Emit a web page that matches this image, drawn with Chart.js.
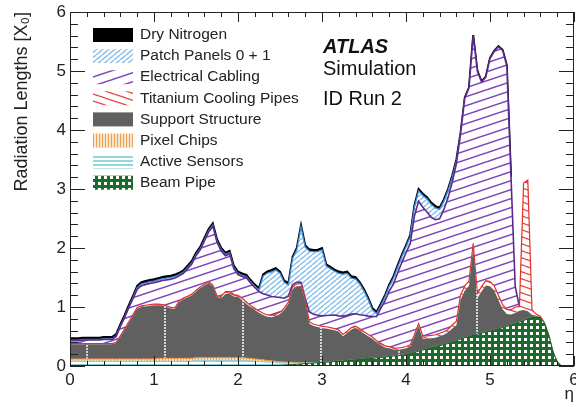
<!DOCTYPE html>
<html>
<head>
<meta charset="utf-8">
<script src="https://cdn.jsdelivr.net/npm/chart.js@4.4.1/dist/chart.umd.min.js"></script>
<style>
  html, body { margin: 0; padding: 0; background: #fff; }
</style>
</head>
<body>
<canvas id="c" width="576" height="407"></canvas>
<script>
// eta bins (0 .. 6, step 0.05)
const eta = [
  0.00,0.05,0.10,0.15,0.20,0.25,0.30,0.35,0.40,0.45,
  0.50,0.55,0.60,0.65,0.70,0.75,0.80,0.85,0.90,0.95,
  1.00,1.05,1.10,1.15,1.20,1.25,1.30,1.35,1.40,1.45,
  1.50,1.55,1.60,1.65,1.70,1.75,1.80,1.85,1.90,1.95,
  2.00,2.05,2.10,2.15,2.20,2.25,2.30,2.35,2.40,2.45,
  2.50,2.55,2.60,2.65,2.70,2.75,2.80,2.85,2.90,2.95,
  3.00,3.05,3.10,3.15,3.20,3.25,3.30,3.35,3.40,3.45,
  3.50,3.55,3.60,3.65,3.70,3.75,3.80,3.85,3.90,3.95,
  4.00,4.05,4.10,4.15,4.20,4.25,4.30,4.35,4.40,4.45,
  4.50,4.55,4.60,4.65,4.70,4.75,4.80,4.85,4.90,4.95,
  5.00,5.05,5.10,5.15,5.20,5.25,5.30,5.35,5.40,5.45,
  5.50,5.55,5.60,5.65,5.70,5.75,5.80,5.85,5.90,5.95,
  6.00
];

// radiation length contributions [X0]
const beamPipe = [
  .01,.01,.01,.01,.01,.01,.01,.01,.01,.01,
  .01,.01,.01,.01,.01,.01,.01,.01,.01,.01,
  .01,.01,.01,.01,.01,.01,.01,.01,.01,.01,
  .01,.01,.01,.01,.01,.01,.01,.01,.01,.01,
  .01,.01,.01,.01,.01,.01,.01,.01,.01,.01,
  .01,.015,.02,.025,.03,.035,.04,.045,.05,.055,
  .06,.065,.07,.075,.08,.085,.09,.10,.105,.11,
  .12,.125,.13,.138,.145,.152,.16,.168,.175,.183,
  .19,.21,.23,.25,.27,.29,.31,.33,.345,.36,
  .38,.405,.43,.455,.48,.50,.52,.54,.555,.575,
  .59,.61,.63,.65,.67,.695,.72,.745,.77,.80,
  .82,.83,.82,.72,.52,.24,.07,0,0,0,
  0
];
const activeSensors = [
  .07,.07,.07,.07,.07,.07,.07,.07,.07,.07,
  .07,.07,.07,.07,.07,.07,.07,.07,.07,.07,
  .07,.07,.07,.07,.07,.07,.07,.07,.07,.07,
  .08,.08,.08,.08,.08,.08,.08,.08,.08,.08,
  .08,.08,.08,.075,.07,.065,.06,.055,.05,.045,
  .04,.035,.03,.025,.02,.015,.01,.008,.005,.003,
  0,0,0,0,0,0,0,0,0,0,
  0,0,0,0,0,0,0,0,0,0,
  0,0,0,0,0,0,0,0,0,0,
  0,0,0,0,0,0,0,0,0,0,
  0,0,0,0,0,0,0,0,0,0,
  0,0,0,0,0,0,0,0,0,0,
  0
];
const pixelChips = [
  .04,.04,.04,.04,.04,.04,.04,.04,.04,.04,
  .04,.04,.04,.04,.04,.04,.04,.04,.04,.04,
  .04,.05,.05,.05,.05,.05,.05,.05,.05,.05,
  .05,.05,.05,.05,.05,.05,.05,.05,.05,.05,
  .05,.048,.045,.042,.04,.037,.034,.03,.027,.024,
  .02,.018,.015,.012,.01,.008,.006,.004,.003,.002,
  0,0,0,0,0,0,0,0,0,0,
  0,0,0,0,0,0,0,0,0,0,
  0,0,0,0,0,0,0,0,0,0,
  0,0,0,0,0,0,0,0,0,0,
  0,0,0,0,0,0,0,0,0,0,
  0,0,0,0,0,0,0,0,0,0,
  0
];
const supportStructure = [
  .25,.25,.25,.25,.25,.25,.25,.25,.25,.25,
  .25,.27,.37,.49,.61,.73,.85,.88,.89,.90,
  .91,.90,.89,.87,.84,.84,.95,1.0,1.03,1.07,
  1.12,1.18,1.22,1.27,1.21,1.03,1.01,1.08,1.08,1.04,
  1.03,.98,.92,.87,.83,.79,.76,.74,.74,.77,
  .81,.88,.99,1.24,1.29,1.30,1.04,.66,.62,.60,
  .58,.57,.55,.53,.50,.42,.47,.52,.54,.49,
  .43,.38,.33,.26,.21,.16,.14,.11,.10,.10,
  .11,.12,.27,.43,.19,.17,.16,.15,.16,.17,
  .19,.23,.26,.67,.80,.86,1.48,.61,.71,.79,
  .76,.67,.49,.31,.21,.18,.18,.19,.18,.13,
  .05,.02,.01,0,0,0,0,0,0,0,
  0
];
const coolingPipes = [
  .01,.01,.01,.01,.01,.01,.01,.01,.01,.01,
  .01,.01,.02,.02,.02,.02,.02,.02,.02,.02,
  .02,.02,.02,.02,.02,.02,.02,.02,.02,.02,
  .02,.02,.02,.02,.02,.02,.03,.04,.04,.03,
  .03,.03,.03,.03,.03,.03,.03,.03,.03,.03,
  .03,.03,.03,.04,.04,.04,.03,.03,.03,.03,
  .03,.03,.03,.03,.03,.03,.03,.03,.03,.03,
  .03,.03,.03,.03,.03,.03,.03,.03,.03,.03,
  .03,.03,.03,.04,.05,.05,.05,.05,.05,.05,
  .05,.06,.07,.08,.08,.08,.08,.08,.08,.08,
  .08,.08,.08,.08,.08,.08,.10,.07,2.15,2.22,
  .08,.03,.01,.01,0,0,0,0,0,0,
  0
];
const electricalCabling = [
  .05,.05,.05,.06,.06,.06,.06,.06,.07,.07,
  .07,.10,.16,.19,.24,.27,.31,.34,.35,.36,
  .36,.38,.41,.44,.48,.50,.43,.42,.47,.51,
  .59,.63,.74,.84,1.0,.91,.77,.61,.64,.44,
  .35,.37,.41,.38,.35,.33,.33,.34,.32,.29,
  .25,.17,.10,.04,.03,.02,.02,.17,.17,.17,
  .18,.19,.21,.23,.24,.31,.27,.23,.21,.24,
  .28,.31,.35,.41,.59,.76,.94,1.08,1.27,1.44,
  1.59,1.71,2.01,2.07,2.18,2.10,2.0,1.95,1.94,2.07,
  2.23,2.42,2.67,2.73,3.18,3.27,3.52,3.76,3.47,3.45,
  3.78,3.97,4.21,4.31,4.13,2.25,.35,0,0,0,
  0,0,0,0,0,0,0,0,0,0,
  0
];
const patchPanels = [
  .01,.01,.01,.01,.01,.01,.01,.01,.01,.01,
  .01,.01,.01,.01,.01,.02,.03,.03,.03,.03,
  .03,.03,.03,.03,.03,.03,.02,.02,.02,.02,
  .02,.02,.02,.02,.02,.02,.02,.02,.02,.02,
  .02,.02,.02,.02,.02,.03,.30,.37,.42,.46,
  .41,.27,.19,.44,.55,.94,.87,1.03,1.06,1.08,
  1.12,.84,.79,.74,.72,.71,.71,.61,.59,.52,
  .41,.28,.11,.05,.05,.07,.08,.10,.10,.10,
  .10,.12,.15,.18,.20,.22,.22,.20,.16,.14,
  .12,.08,.04,.01,0,0,0,0,0,0,
  0,0,0,0,0,0,0,0,0,0,
  0,0,0,0,0,0,0,0,0,0,
  0
];
const dryNitrogen = [
  .03,.03,.03,.03,.03,.03,.03,.03,.03,.03,
  .03,.03,.03,.03,.03,.03,.03,.03,.03,.03,
  .03,.03,.03,.03,.03,.03,.03,.03,.03,.03,
  .03,.03,.03,.03,.03,.03,.03,.03,.03,.03,
  .03,.03,.03,.03,.03,.03,.03,.03,.03,.03,
  .03,.03,.03,.03,.03,.03,.03,.03,.03,.03,
  .03,.03,.03,.03,.03,.03,.03,.03,.03,.03,
  .03,.03,.03,.03,.03,.03,.03,.03,.03,.03,
  .03,.03,.03,.03,.03,.03,.03,.03,.03,.03,
  .03,.03,.03,.01,.01,.01,.01,.01,.01,.01,
  .01,.01,.01,.01,.01,0,0,0,0,0,
  0,0,0,0,0,0,0,0,0,0,
  0
];

const yTicks = [0, 1, 2, 3, 4, 5, 6];
const xTicks = [0, 1, 2, 3, 4, 5, 6];

const FONT = '"Liberation Sans", Arial, Helvetica, sans-serif';
Chart.defaults.font.family = FONT;
Chart.defaults.color = '#222';

// fill patterns (ROOT style hatches)
function makePattern(w, h, draw) {
  const c = document.createElement('canvas');
  c.width = w; c.height = h;
  const g = c.getContext('2d');
  draw(g, w, h);
  return g.createPattern(c, 'repeat');
}
function hatch(w, h, color, lw, up) {
  return makePattern(w, h, (g) => {
    g.fillStyle = '#fff';
    g.fillRect(0, 0, w, h);
    g.strokeStyle = color;
    g.lineWidth = lw;
    for (const k of [-1, 0, 1]) {
      g.beginPath();
      if (up) { g.moveTo(0, h + k * h); g.lineTo(w, k * h); }
      else { g.moveTo(0, k * h); g.lineTo(w, h + k * h); }
      g.stroke();
    }
  });
}

const fills = {
  nitrogen: '#000',
  patch: hatch(6, 5, '#86c0ec', 1.4, true),
  cabling: hatch(27, 9, '#8143bd', 1.5, true),
  cooling: hatch(21, 7, '#e8463f', 1.2, false),
  support: makePattern(78, 3, (g) => {
    g.fillStyle = '#606060'; g.fillRect(0, 0, 78, 3);
    g.fillStyle = '#d4d4d4'; g.fillRect(8, 0, 2, 2);
  }),
  chips: makePattern(3, 4, (g) => {
    g.fillStyle = '#fbe4cc'; g.fillRect(0, 0, 3, 4);
    g.fillStyle = '#ef9f55'; g.fillRect(0, 0, 1, 4);
  }),
  sensors: makePattern(4, 4, (g) => {
    g.fillStyle = '#ffffff'; g.fillRect(0, 0, 4, 4);
    g.fillStyle = '#95d6dc'; g.fillRect(0, 0, 4, 2);
  }),
  beam: makePattern(6, 6, (g) => {
    g.fillStyle = '#1c6b2a'; g.fillRect(0, 0, 6, 6);
    g.fillStyle = '#ffffff'; g.fillRect(2, 2, 3, 3);
  })
};

const points = arr => arr.map((v, i) => ({ x: eta[i], y: v }));
const onlyWhere = (arr, color) => ctx =>
  (arr[ctx.p0DataIndex] > 0 || arr[ctx.p1DataIndex] > 0) ? color : 'rgba(0,0,0,0)';

const datasets = [
  { label: 'Beam Pipe', data: points(beamPipe), backgroundColor: fills.beam, borderColor: '#145a20', borderWidth: 1, fill: 'origin' },
  { label: 'Active Sensors', data: points(activeSensors), backgroundColor: fills.sensors, borderColor: '#7fcfd6', borderWidth: 1, fill: '-1' },
  { label: 'Pixel Chips', data: points(pixelChips), backgroundColor: fills.chips, borderColor: '#ee8f3a', borderWidth: 1, fill: '-1' },
  { label: 'Support Structure', data: points(supportStructure), backgroundColor: fills.support, borderColor: '#606060', borderWidth: 0, fill: '-1' },
  { label: 'Titanium Cooling Pipes', data: points(coolingPipes), backgroundColor: fills.cooling, borderColor: '#e0302c', borderWidth: 1.2, fill: '-1' },
  { label: 'Electrical Cabling', data: points(electricalCabling), backgroundColor: fills.cabling, borderColor: '#5a2a8e', borderWidth: 1.6, fill: '-1',
    segment: { borderColor: onlyWhere(electricalCabling, '#5a2a8e') } },
  { label: 'Patch Panels 0 + 1', data: points(patchPanels), backgroundColor: fills.patch, borderColor: '#3a8ad6', borderWidth: 1.3, fill: '-1',
    segment: { borderColor: onlyWhere(patchPanels, '#3a8ad6') } },
  { label: 'Dry Nitrogen', data: points(dryNitrogen), backgroundColor: fills.nitrogen, borderColor: '#000', borderWidth: 2, fill: '-1',
    segment: { borderColor: onlyWhere(dryNitrogen, '#000') } }
];

// inward ticks and frame, ROOT style
const frame = {
  id: 'frame',
  afterDatasetsDraw(chart) {
    const { ctx, chartArea: a, scales: { x, y } } = chart;
    ctx.save();
    ctx.strokeStyle = '#222';
    ctx.lineWidth = 1;
    ctx.strokeRect(a.left + 0.5, a.top + 0.5, a.right - a.left - 1, a.bottom - a.top - 1);
    ctx.beginPath();
    for (let i = 0; i <= 30; i++) {
      const v = i / 5, major = i % 5 === 0;
      const px = Math.round(x.getPixelForValue(v)) + 0.5;
      const lx = major ? 10 : 5;
      ctx.moveTo(px, a.bottom); ctx.lineTo(px, a.bottom - lx);
      ctx.moveTo(px, a.top); ctx.lineTo(px, a.top + lx);
      const py = Math.round(y.getPixelForValue(v)) + 0.5;
      const ly = major ? 15 : 8;
      ctx.moveTo(a.left, py); ctx.lineTo(a.left + ly, py);
      ctx.moveTo(a.right, py); ctx.lineTo(a.right - ly, py);
    }
    ctx.stroke();
    ctx.restore();
  }
};

// legend box + ATLAS label
const labels = {
  id: 'labels',
  afterDraw(chart) {
    const { ctx } = chart;
    ctx.save();
    const list = chart.data.datasets.slice().reverse();
    ctx.font = '15.5px ' + FONT;
    ctx.textBaseline = 'middle';
    list.forEach((ds, i) => {
      const yc = 35 + i * 21.1;
      ctx.fillStyle = ds.backgroundColor;
      ctx.fillRect(93, yc - 7, 40, 14);
      ctx.fillStyle = '#222';
      ctx.fillText(ds.label, 140, yc);
    });
    ctx.textBaseline = 'alphabetic';
    ctx.fillStyle = '#111';
    ctx.font = 'italic bold 20px ' + FONT;
    ctx.fillText('ATLAS', 323, 53);
    ctx.font = '20px ' + FONT;
    ctx.fillText('Simulation', 323, 75);
    ctx.fillText('ID Run 2', 323, 105);
    ctx.restore();
  }
};

new Chart(document.getElementById('c'), {
  type: 'line',
  data: { datasets },
  options: {
    responsive: false,
    devicePixelRatio: 1,
    animation: false,
    events: [],
    layout: { padding: { top: 12, right: 2, left: 0, bottom: 0 } },
    elements: { point: { radius: 0 }, line: { tension: 0 } },
    plugins: { legend: { display: false }, tooltip: { enabled: false } },
    scales: {
      x: {
        type: 'linear', min: 0, max: 6,
        grid: { display: false, drawTicks: false },
        border: { display: false },
        afterBuildTicks: s => { s.ticks = xTicks.map(v => ({ value: v })); },
        ticks: { font: { size: 17 }, padding: 4, color: '#222', maxRotation: 0, autoSkip: false },
        title: { display: true, text: 'η', align: 'end', font: { size: 17 }, padding: { top: 0, bottom: 2 }, color: '#222' },
        afterFit: s => { s.height = 41; s.paddingLeft = 0; s.paddingRight = 0; }
      },
      y: {
        stacked: true, min: 0, max: 6,
        grid: { display: false, drawTicks: false },
        border: { display: false },
        afterBuildTicks: s => { s.ticks = yTicks.map(v => ({ value: v })); },
        ticks: { font: { size: 17 }, padding: 4, color: '#222' },
        title: { display: true, text: 'Radiation Lengths [X₀]', align: 'end', font: { size: 18 }, padding: { top: 11, bottom: 0 }, color: '#222' },
        afterFit: s => { s.width = 70; s.paddingTop = 0; s.paddingBottom = 0; }
      }
    }
  },
  plugins: [frame, labels]
});
</script>
</body>
</html>
